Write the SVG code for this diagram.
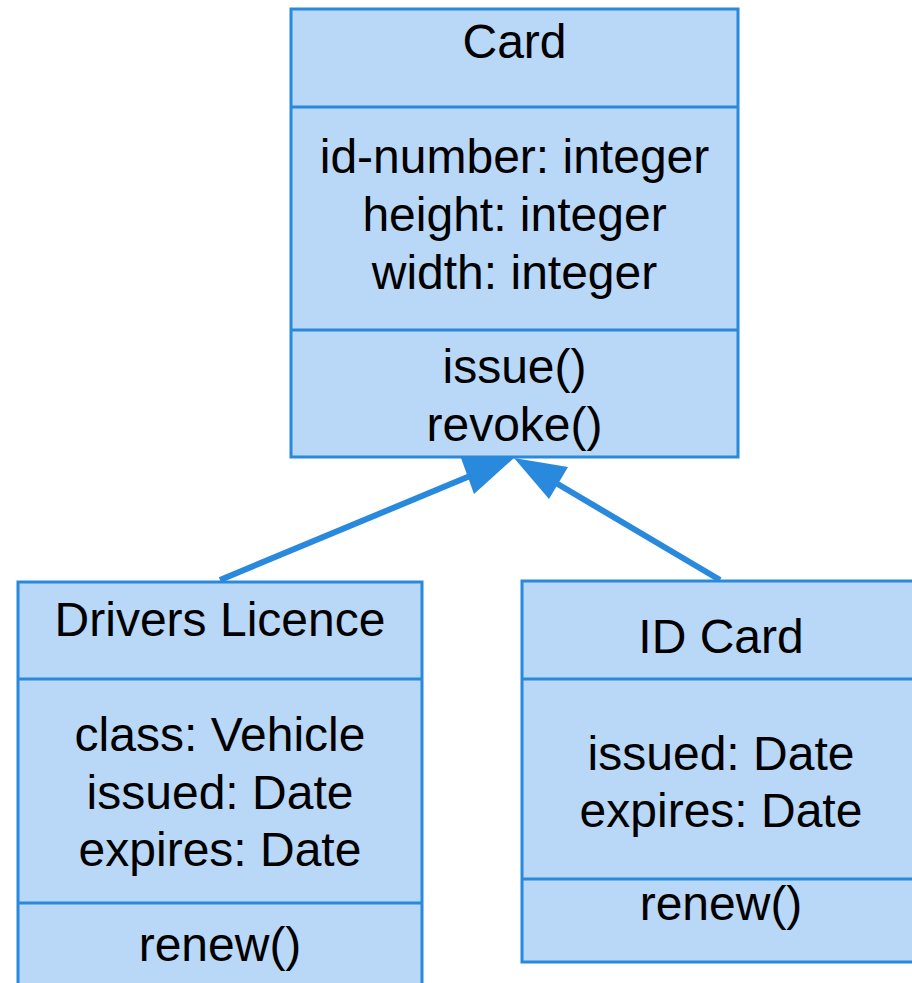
<svg xmlns="http://www.w3.org/2000/svg" width="912" height="983" viewBox="0 0 912 983">
<style>
.box{fill:#b9d7f6;stroke:#2889dd;stroke-width:3}
.div{stroke:#2889dd;stroke-width:3}
.t{font-family:"Liberation Sans",Arial,sans-serif;font-size:48px;fill:#000;text-anchor:middle}
.conn{stroke:#2889dd;stroke-width:6;fill:none}
.head{fill:#2889dd;stroke:none}
</style>
<rect width="912" height="983" fill="#ffffff"/>
<g id="card">
<rect class="box" x="291" y="9" width="447" height="448"/>
<line class="div" x1="291" y1="107" x2="738" y2="107"/>
<line class="div" x1="291" y1="330" x2="738" y2="330"/>
<text class="t" x="514.5" y="58">Card</text>
<text class="t" x="514.5" y="173">id-number: integer</text>
<text class="t" x="514.5" y="231">height: integer</text>
<text class="t" x="514.5" y="289">width: integer</text>
<text class="t" x="514.5" y="383">issue()</text>
<text class="t" x="514.5" y="441">revoke()</text>
</g>
<g id="drivers-licence">
<rect class="box" x="18" y="582" width="404" height="420"/>
<line class="div" x1="18" y1="679" x2="422" y2="679"/>
<line class="div" x1="18" y1="903" x2="422" y2="903"/>
<text class="t" x="220" y="636">Drivers Licence</text>
<text class="t" x="220" y="751">class: Vehicle</text>
<text class="t" x="220" y="809">issued: Date</text>
<text class="t" x="220" y="866">expires: Date</text>
<text class="t" x="220" y="961">renew()</text>
</g>
<g id="id-card">
<rect class="box" x="522" y="581" width="400" height="381"/>
<line class="div" x1="522" y1="679" x2="922" y2="679"/>
<line class="div" x1="522" y1="879" x2="922" y2="879"/>
<text class="t" x="721" y="653">ID Card</text>
<text class="t" x="721" y="770">issued: Date</text>
<text class="t" x="721" y="827">expires: Date</text>
<text class="t" x="721" y="920">renew()</text>
</g>
<g id="connectors">
<line class="conn" x1="220" y1="580" x2="470" y2="476"/>
<polygon class="head" points="514,458 474,494 461,458"/>
<line class="conn" x1="720" y1="580" x2="556" y2="483"/>
<polygon class="head" points="514,458 568,467 549,499"/>
</g>
</svg>
